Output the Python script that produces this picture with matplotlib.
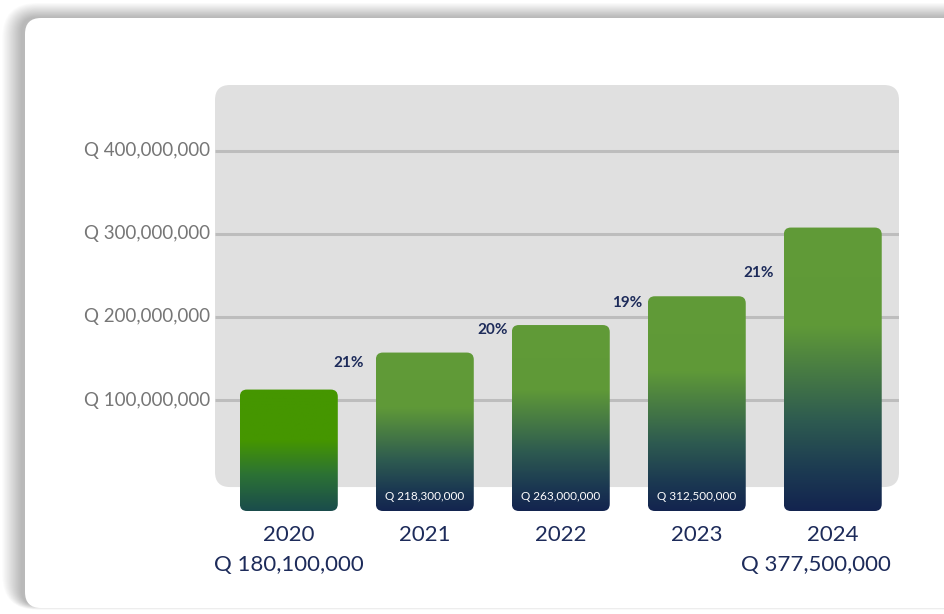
import numpy as np
import matplotlib.pyplot as plt
from matplotlib.patches import FancyBboxPatch
from matplotlib.colors import to_rgb

plt.rcParams['font.family'] = ['Lato', 'DejaVu Sans']

# datos
years = ['2020', '2021', '2022', '2023', '2024']
bar_heights = [112.6e6, 157.1e6, 190.2e6, 224.8e6, 307.4e6]  # alto visible de cada barra
bar_base = -33.4e6
value_labels = ['Q 180,100,000', 'Q 218,300,000', 'Q 263,000,000', 'Q 312,500,000', 'Q 377,500,000']
value_inside = [False, True, True, True, False]
growth = ['', '21%', '20%', '19%', '21%']
y_ticks = [100e6, 200e6, 300e6, 400e6]

# ajustes de posicion (pixeles)
pct_gap_px = [0, 12, 4, 6, 10]
pct_drop_px = [0, 10, 5, 7, 45]
value_dx_px = [0, 0, 0, 0, -17]

navy = '#1d2b5a'

fig = plt.figure(figsize=(9.44, 6.14), dpi=100)
fig.patch.set_facecolor('white')

# fondo: tarjeta blanca con sombra, en coordenadas de pixel
bg = fig.add_axes([0, 0, 1, 1])
bg.set_xlim(0, 944)
bg.set_ylim(614, 0)
bg.axis('off')
for i in range(18):
    e = i * 1.1
    bg.add_patch(FancyBboxPatch((21 - e, 17 - e * 0.75), 1000 + 2 * e, 588 + e,
                                boxstyle=f'round,pad=0,rounding_size={16 + e}',
                                fc='black', ec='none', alpha=0.016, zorder=1))
bg.add_patch(FancyBboxPatch((25, 18), 1000, 590, boxstyle='round,pad=0,rounding_size=16',
                            fc='white', ec='none', zorder=2))

# eje principal
left_px, right_px, top_px, bot_px = 215, 899, 85, 511
ax = fig.add_axes([left_px / 944, (614 - bot_px) / 614, (right_px - left_px) / 944, (bot_px - top_px) / 614])
x_lo, x_hi = -0.543, 4.487
y_lo, y_hi = bar_base, 478.8e6
ux = (x_hi - x_lo) / (right_px - left_px)
uy = (y_hi - y_lo) / (bot_px - top_px)
asp = uy / ux

ax.add_patch(FancyBboxPatch((x_lo, -4.6e6), x_hi - x_lo, y_hi + 4.6e6,
                            boxstyle=f'round,pad=0,rounding_size={15 * ux}', mutation_aspect=asp,
                            fc='#e0e0e0', ec='none', zorder=0))
ax.hlines(y_ticks, x_lo, x_hi, color='#bdbdbd', lw=2.2, zorder=1)
for t in y_ticks:
    ax.text(x_lo - 5 * ux, t, f'Q {int(t):,}', ha='right', va='center',
            color='#767676', fontsize=13.5)


def gradient(stops, n=200):
    pos = [s[0] for s in stops]
    cols = np.array([to_rgb(s[1]) for s in stops])
    f = np.linspace(0, 1, n)
    arr = np.stack([np.interp(f, pos, cols[:, k]) for k in range(3)], axis=1)
    return arr[:, None, :]


first_stops = [(0, '#459600'), (0.42, '#459600'), (0.7, '#2c7234'), (1, '#1a4c4c')]
other_stops = [(0, '#619b37'), (0.35, '#5f9938'), (0.68, '#2e5b50'), (0.86, '#1c3a52'), (1, '#13244f')]

w = 0.72
for i, h in enumerate(bar_heights):
    x0 = i - w / 2
    p = FancyBboxPatch((x0, bar_base), w, h - bar_base,
                       boxstyle=f'round,pad=0,rounding_size={7 * ux}', mutation_aspect=asp,
                       fc='none', ec='none', zorder=3)
    ax.add_patch(p)
    g = gradient(first_stops if i == 0 else other_stops)
    im = ax.imshow(g, extent=[x0, x0 + w, bar_base, h], aspect='auto', origin='upper',
                   interpolation='bilinear', zorder=3)
    im.set_clip_path(p)

    if growth[i]:
        ax.text(x0 - pct_gap_px[i] * ux, h - pct_drop_px[i] * uy, growth[i], ha='right', va='center',
                color=navy, fontsize=11, fontweight='bold', zorder=4)

    ax.annotate(years[i], xy=(i, bar_base), xytext=(0, -24 * 0.72), textcoords='offset points',
                ha='center', va='center', color=navy, fontsize=16)
    if value_inside[i]:
        ax.annotate(value_labels[i], xy=(i, bar_base), xytext=(0, 14.3 * 0.72), textcoords='offset points',
                    ha='center', va='center', color='white', fontsize=8.5, zorder=5)
    else:
        ax.annotate(value_labels[i], xy=(i, bar_base), xytext=(value_dx_px[i] * 0.72, -54 * 0.72),
                    textcoords='offset points', ha='center', va='center', color=navy, fontsize=16)

ax.set_xlim(x_lo, x_hi)
ax.set_ylim(y_lo, y_hi)
ax.axis('off')

fig.savefig('out.png', dpi=100)
